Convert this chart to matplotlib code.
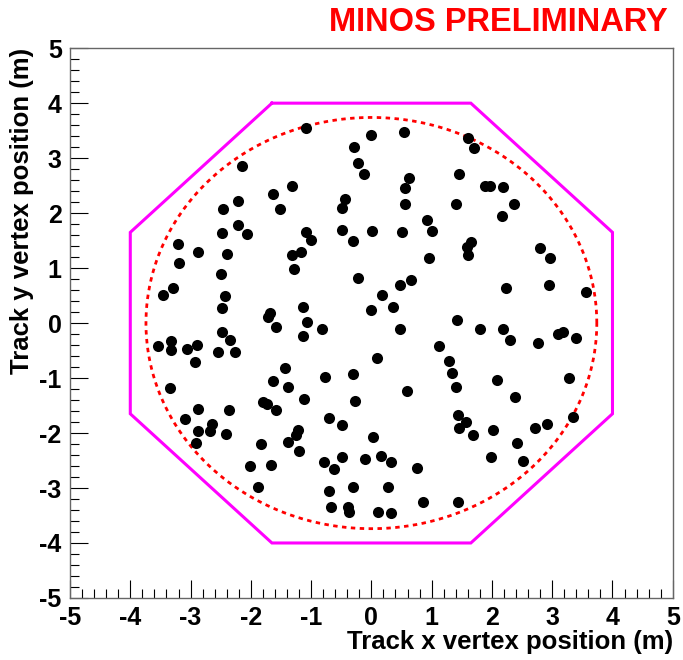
import matplotlib
matplotlib.use("Agg")
import matplotlib.pyplot as plt
import numpy as np
from matplotlib import font_manager
from matplotlib.ticker import MultipleLocator

# Reconstructed track vertex positions (m)
vtx_x = [-2.14, -1.32, -1.63, -2.22, -2.46, -1.51, -2.21, -2.48, -2.06, -3.21, -2.87, -2.39,
         -3.20, -2.50, -3.29, -3.45, -2.43, -2.48, -1.69, -1.72, -1.59, -2.48, -2.35, -3.33,
         -3.33, -3.54, -2.90, -3.06, -2.54, -2.26, -2.93, -1.44, -1.63, -1.39, -3.34,
         -1.31, -1.16, -1.28, -0.30, 0.95, -0.23, 0.65, 0.48, 0.17, -1.14, 0.36, -0.01,
         -1.07, -0.82, -1.14, 0.48, 1.13, 1.28, 1.33, 0.10, -0.77, -0.31, 0.59,
         -1.09, 0.00, 0.54, -0.29, -0.23, -0.12, 0.62, 0.56, -0.43, -0.48, 0.56, 0.93,
         1.01, -1.09, -1.01, -0.48, 0.01, 0.50,
         1.61, 1.71, 1.46, 1.88, 1.96, 2.19, 1.41, 2.37, 2.17, 1.65, 1.59, 2.80,
         1.60, 2.97, 2.24, 2.95, 3.56, 1.42, 1.81, 2.19, 2.30, 2.77, 3.10, 3.18, 3.40,
         1.41, 2.08, 3.28,
         2.38, 1.43, 1.57, 1.46, 1.68, 2.02, 2.71, 2.91, 3.35, 2.41, 1.98, 2.52, 1.44,
         -1.11, -0.28, -0.71, -0.49, -1.21, -1.25, -1.38, -1.20, 0.02, -0.78, -0.62, -0.49,
         -0.11, 0.16, 0.33, 0.76, -0.71, -0.31, 0.27, 0.85, -0.67, -0.38, -0.37, 0.11, 0.33,
         -1.80, -1.74, -1.59, -2.88, -2.37, -3.10, -2.65, -2.67, -2.88, -2.42, -2.91, -1.83,
         -2.02, -1.67, -1.88]
vtx_y = [2.85, 2.49, 2.34, 2.22, 2.07, 2.07, 1.79, 1.64, 1.62, 1.43, 1.29, 1.26,
         1.10, 0.89, 0.64, 0.51, 0.49, 0.27, 0.19, 0.11, -0.08, -0.16, -0.30, -0.33,
         -0.49, -0.41, -0.40, -0.47, -0.52, -0.53, -0.71, -0.82, -1.06, -1.16, -1.19,
         1.23, 1.30, 0.99, 1.49, 1.19, 0.82, 0.79, 0.69, 0.51, 0.30, 0.29, 0.24,
         0.02, -0.11, -0.23, -0.11, -0.41, -0.69, -0.90, -0.64, -0.99, -0.93, -1.23,
         3.55, 3.42, 3.47, 3.21, 2.91, 2.72, 2.64, 2.46, 2.26, 2.10, 2.16, 1.87,
         1.67, 1.65, 1.52, 1.70, 1.68, 1.65,
         3.36, 3.18, 2.72, 2.50, 2.50, 2.47, 2.17, 2.17, 1.94, 1.47, 1.38, 1.36,
         1.23, 1.19, 0.64, 0.69, 0.56, 0.05, -0.10, -0.10, -0.30, -0.37, -0.20, -0.17, -0.28,
         -1.16, -1.03, -1.00,
         -1.35, -1.68, -1.80, -1.91, -2.03, -1.94, -1.91, -1.84, -1.71, -2.18, -2.44, -2.50, -3.25,
         -1.38, -1.41, -1.73, -1.85, -1.95, -2.03, -2.16, -2.33, -2.08, -2.53, -2.66, -2.44,
         -2.48, -2.41, -2.53, -2.63, -3.06, -2.99, -2.98, -3.25, -3.34, -3.35, -3.44, -3.43, -3.45,
         -1.44, -1.48, -1.59, -1.56, -1.59, -1.74, -1.84, -1.97, -1.97, -2.01, -2.18, -2.20,
         -2.60, -2.59, -2.99]

# Detector outline (octagon) and fiducial circle, in metres
oct_half = 4.0
oct_corner = 1.65
fid_radius = 3.74

available = {f.name for f in font_manager.fontManager.ttflist}
if "Liberation Sans Narrow" in available:
    FONT = ["Liberation Sans Narrow", "DejaVu Sans"]
else:
    FONT = ["Liberation Sans", "DejaVu Sans"]
plt.rcParams["font.family"] = FONT
plt.rcParams["axes.unicode_minus"] = False

fig = plt.figure(figsize=(6.83, 6.60), dpi=100)
ax = fig.add_axes([0.1025, 0.094, 0.8825, 0.833])

# octagon
a, c = oct_half, oct_corner
ox = [-c, c, a, a, c, -c, -a, -a, -c]
oy = [a, a, c, -c, -a, -a, -c, c, a]
ax.plot(ox, oy, color="#ff00ff", lw=2.2, solid_joinstyle="miter", zorder=2)

# fiducial circle
t = np.linspace(0, 2 * np.pi, 400)
ax.plot(fid_radius * np.cos(t), fid_radius * np.sin(t), color="#ff0000", lw=2.0,
        linestyle=(0, (1.6, 1.6)), zorder=2)

ax.plot(vtx_x, vtx_y, "o", color="black", markersize=8.0, markeredgewidth=0, zorder=3)

ax.set_xlim(-5, 5)
ax.set_ylim(-5, 5)
ax.xaxis.set_major_locator(MultipleLocator(1))
ax.yaxis.set_major_locator(MultipleLocator(1))
ax.xaxis.set_minor_locator(MultipleLocator(0.2))
ax.yaxis.set_minor_locator(MultipleLocator(0.2))
ax.tick_params(which="both", direction="in", top=False, right=False, color="black", width=0.8)
ax.tick_params(which="major", length=13, pad=6, labelsize=18)
ax.tick_params(which="minor", length=6.5)
for lab in ax.get_xticklabels() + ax.get_yticklabels():
    lab.set_fontweight("bold")
for s in ax.spines.values():
    s.set_color("#666666")
    s.set_linewidth(1.0)

ax.set_xlabel("Track x vertex position (m)", fontsize=18.5, fontweight="bold",
              loc="right", labelpad=0)
ax.set_ylabel("Track y vertex position (m)", fontsize=18.5, fontweight="bold",
              loc="top", labelpad=4)

fig.text(0.978, 0.966, "MINOS PRELIMINARY", color="#ff0000", fontsize=23.5,
         fontweight="bold", ha="right", va="center")

fig.savefig("out.png", dpi=100)
